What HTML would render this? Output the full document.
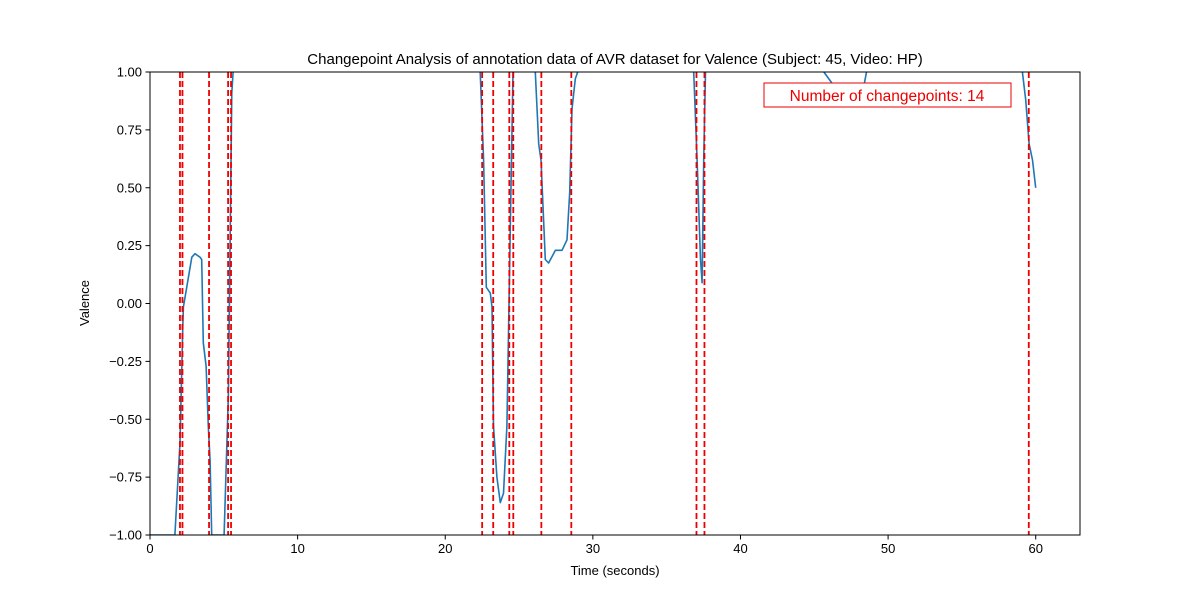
<!DOCTYPE html>
<html><head><meta charset="utf-8"><style>
html,body{margin:0;padding:0;background:#fff;}
svg{display:block;font-family:"Liberation Sans","DejaVu Sans",sans-serif;}
</style></head><body>
<svg id="chart" width="1200" height="600">
<defs><clipPath id="plotclip"><rect x="150" y="72" width="930" height="463"/></clipPath></defs>
<rect x="0" y="0" width="1200" height="600" fill="#fff"/>
<text x="615" y="64" text-anchor="middle" font-size="15">Changepoint Analysis of annotation data of AVR dataset for Valence (Subject: 45, Video: HP)</text>
<g id="xticks"></g><g id="yticks"></g>
<g id="plot" clip-path="url(#plotclip)"></g>
<rect x="150" y="72" width="930" height="463" fill="none" stroke="#000" stroke-width="1"/>
<text x="615" y="575" text-anchor="middle" font-size="13">Time (seconds)</text>
<text transform="translate(89,303) rotate(-90)" text-anchor="middle" font-size="13">Valence</text>
<rect x="764" y="83" width="247" height="24" fill="#fff" stroke="#e00" stroke-width="1"/>
<text x="887" y="101" text-anchor="middle" font-size="15.5" fill="#e00">Number of changepoints: 14</text>
</svg>
<script>
const xTicks=[0,10,20,30,40,50,60];
const yTicks=[-1,-0.75,-0.5,-0.25,0,0.25,0.5,0.75,1];
const changepoints=[2.03,2.2,4.0,5.29,5.49,22.5,23.25,24.34,24.61,26.51,28.54,37.02,37.56,59.53];
const times=[0,1.69,2.03,2.22,2.26,2.83,3.05,3.39,3.5,3.61,3.8,3.95,4.07,4.18,5.02,5.31,5.54,5.63,5.83,22,22.2,22.37,22.6,22.78,23.05,23.17,23.27,23.5,23.73,23.95,24.18,24.41,24.59,24.68,25.97,26.1,26.33,26.49,26.78,27.0,27.46,27.91,28.25,28.43,28.59,28.81,28.97,29.15,36.61,36.83,37.06,37.29,37.4,37.51,37.63,37.76,45.42,45.65,46.22,48.36,48.54,48.68,58.85,59.1,59.32,59.55,59.78,60.0];
const valence=[-1,-1,-0.6,-0.1,-0.015,0.2,0.215,0.2,0.19,-0.17,-0.27,-0.53,-0.68,-1,-1,-0.39,0.91,1.0,1.2,1.3,1.1,1.0,0.62,0.07,0.045,-0.015,-0.53,-0.75,-0.86,-0.82,-0.53,0.33,1.0,1.2,1.2,1.0,0.69,0.62,0.19,0.175,0.23,0.23,0.275,0.48,0.84,0.97,1.0,1.2,1.2,1.0,0.62,0.19,0.09,0.62,1.0,1.2,1.05,1.0,0.95,0.94,1.0,1.1,1.1,1.0,0.88,0.69,0.62,0.5];
const NS="http://www.w3.org/2000/svg";
const X=t=>150+t*(930/63);
const Y=v=>72+(1-v)*231.5;
const xg=document.getElementById('xticks'),yg=document.getElementById('yticks'),pg=document.getElementById('plot');
function mk(tag,attrs,parent){const e=document.createElementNS(NS,tag);for(const k in attrs)e.setAttribute(k,attrs[k]);parent.appendChild(e);return e;}
xTicks.forEach(t=>{
  const l=mk('line',{x1:X(t),x2:X(t),y1:535,y2:539.5,stroke:'#000'},xg);
  
  
  const tx=mk('text',{x:X(t),y:553,'text-anchor':'middle','font-size':'13'},xg);
  tx.textContent=String(t);
  
  
});
yTicks.forEach(v=>{
  const l=mk('line',{x1:145.5,x2:150,y1:Y(v),y2:Y(v),stroke:'#000'},yg);
  
  
  const tx=mk('text',{x:142,y:Y(v)+4.5,'text-anchor':'end','font-size':'13'},yg);
  tx.textContent=v.toFixed(2).replace('-','\u2212');
  
  
});
const pts=times.map((t,i)=>X(t).toFixed(1)+','+Y(valence[i]).toFixed(1)).join(' ');
const line=mk('polyline',{points:pts,fill:'none',stroke:'#1f77b4','stroke-width':'1.6','stroke-linejoin':'round'},pg);


changepoints.forEach(c=>{
  const l=mk('line',{x1:X(c),x2:X(c),y1:72,y2:535,stroke:'#e00','stroke-width':'1.8','stroke-dasharray':'6,3'},pg);
  
  
});
</script>
</body></html>
